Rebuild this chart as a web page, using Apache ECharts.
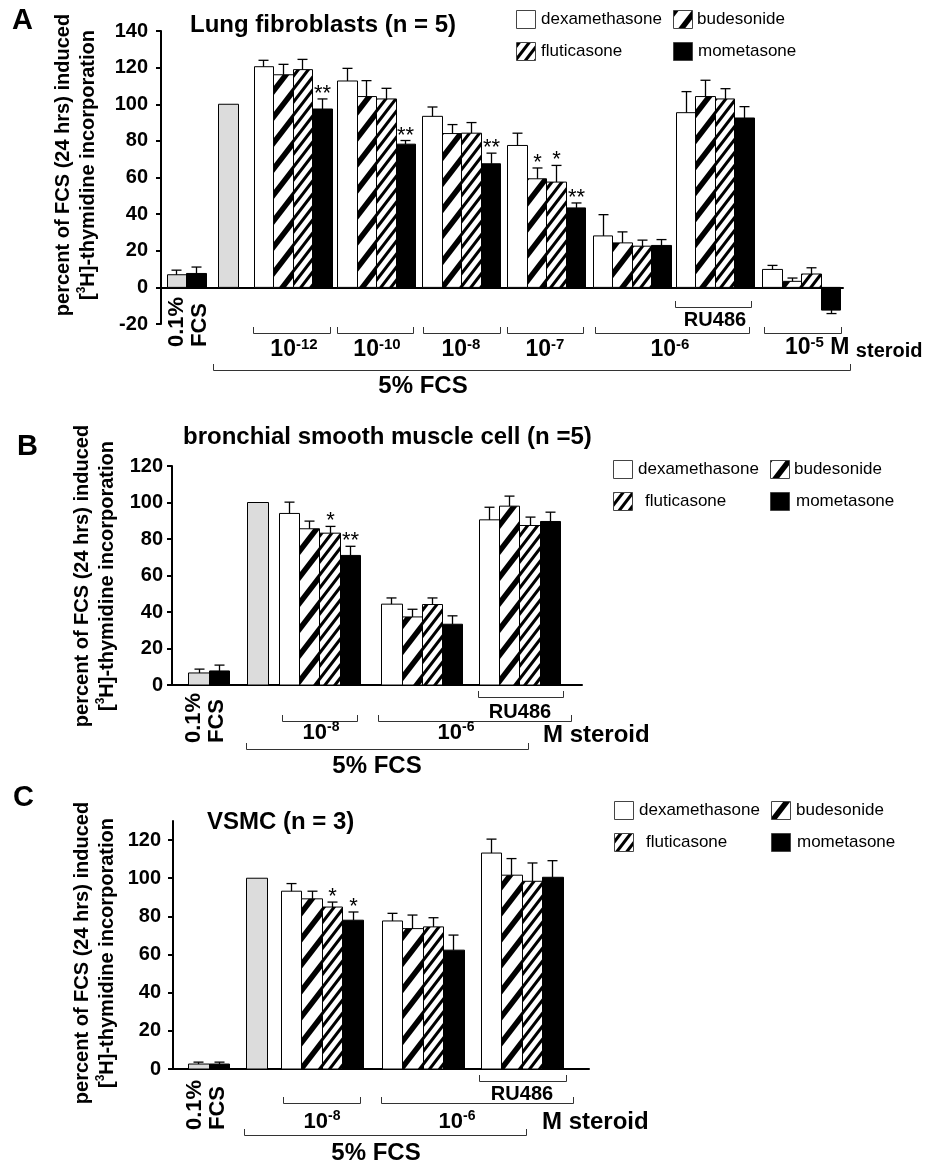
<!DOCTYPE html>
<html>
<head>
<meta charset="utf-8">
<title>Corticosteroids and FCS-induced proliferation</title>
<script src="https://cdn.jsdelivr.net/npm/echarts@6/dist/echarts.min.js"></script>
<style>
html, body { margin: 0; padding: 0; background: #fff; }
#main { width: 932px; height: 1165px; }
</style>
</head>
<body>
<div id="main"></div>
<script>
// ---- data (percent of 5% FCS response, mean and SEM) ----
var drugs = ['control', 'dexamethasone', 'budesonide', 'fluticasone', 'mometasone'];

// A: lung fibroblasts
var groupsA = ['0.1% FCS', '5% FCS', '1e-12 M', '1e-10 M', '1e-8 M', '1e-7 M', '1e-6 M', '1e-6 M + RU486', '1e-5 M'];
var ctrlA    = [6.9, 100, null, null, null, null, null, null, null];
var ctrlErrA = [2.5, 0, null, null, null, null, null, null, null];
var dexA     = [null, null, 120.5, 112.7, 93.4, 77.5, 28.1, 95.4, 9.8];
var dexErrA  = [null, null, 3.5, 6.9, 5.1, 6.7, 11.6, 11.5, 2.2];
var budA     = [null, null, 116.1, 104.2, 84.0, 59.3, 24.3, 104.2, 3.3];
var budErrA  = [null, null, 5.7, 8.7, 4.9, 5.9, 6.0, 8.9, 1.8];
var fluA     = [null, null, 118.9, 102.9, 84.2, 57.5, 22.5, 102.9, 7.3];
var fluErrA  = [null, null, 5.6, 5.8, 5.8, 9.1, 3.3, 5.6, 3.4];
var momA     = [7.6, null, 97.4, 78.2, 67.5, 43.4, 22.9, 92.5, -12.4];
var momErrA  = [3.5, null, 5.5, 2.0, 5.8, 2.7, 3.2, 6.2, 1.9];
var budSigA  = ['', '', '', '', '', '*', '', '', ''];
var fluSigA  = ['', '', '', '', '', '*', '', '', ''];
var momSigA  = ['', '', '**', '**', '**', '**', '', '', ''];

// B: bronchial smooth muscle cells
var groupsB = ['0.1% FCS', '5% FCS', '1e-8 M', '1e-6 M', '1e-6 M + RU486'];
var ctrlB    = [6.6, 100, null, null, null];
var ctrlErrB = [2.1, 0, null, null, null];
var dexB     = [null, null, 94.0, 44.3, 90.5];
var dexErrB  = [null, null, 6.2, 3.4, 6.9];
var budB     = [null, null, 85.6, 37.3, 98.0];
var budErrB  = [null, null, 4.2, 4.2, 5.5];
var fluB     = [null, null, 83.2, 44.1, 87.4];
var fluErrB  = [null, null, 3.7, 3.6, 4.6];
var momB     = [7.7, null, 71.0, 33.3, 89.6];
var momErrB  = [3.2, null, 5.0, 4.6, 5.1];
var fluSigB  = ['', '', '*', '', ''];
var momSigB  = ['', '', '**', '', ''];

// C: VSMC
var groupsC = ['0.1% FCS', '5% FCS', '1e-8 M', '1e-6 M', '1e-6 M + RU486'];
var ctrlC    = [2.6, 100, null, null, null];
var ctrlErrC = [1.0, 0, null, null, null];
var dexC     = [null, null, 93.2, 77.6, 113.2];
var dexErrC  = [null, null, 4.0, 4.0, 7.3];
var budC     = [null, null, 89.2, 73.6, 101.6];
var budErrC  = [null, null, 4.0, 7.1, 8.7];
var fluC     = [null, null, 84.9, 74.5, 98.4];
var fluErrC  = [null, null, 2.6, 4.8, 9.6];
var momC     = [2.6, null, 78.0, 62.3, 100.5];
var momErrC  = [1.0, null, 4.3, 7.9, 8.7];
var fluSigC  = ['', '', '*', '', ''];
var momSigC  = ['', '', '*', '', ''];

var ticksC = [0, 20, 40, 60, 80, 100, 120];

// ---- layout (x in bar widths) ----
var slotsA = [0.79, 3.44, 5.26, 9.54, 13.92, 18.28, 22.67, 26.92, 31.36];
var slotsB = [1.31, 4.21, 5.76, 10.81, 15.62];
var slotsC = [1.24, 4.07, 5.76, 10.68, 15.51];

var FONT = "'Liberation Sans', Arial, Helvetica, sans-serif";

// diagonal hatch tiles
function stripes(period, count, thick) {
    var w = 20, h = period * count;
    var c = document.createElement('canvas');
    c.width = w; c.height = h;
    var ctx = c.getContext('2d');
    ctx.fillStyle = '#fff';
    ctx.fillRect(0, 0, w, h);
    ctx.fillStyle = '#000';
    for (var k = -2; k <= count + 1; k++) {
        var y0 = h + k * period;
        ctx.beginPath();
        ctx.moveTo(0, y0);
        ctx.lineTo(w, y0 - h);
        ctx.lineTo(w, y0 - h + thick);
        ctx.lineTo(0, y0 + thick);
        ctx.closePath();
        ctx.fill();
    }
    return {image: c, repeat: 'repeat'};
}
var FILLS = ['#dcdcdc', '#fff', stripes(26, 1, 9), stripes(13, 2, 5), '#000'];

function barRenderer(fill, sig) {
    return function (params, api) {
        var x = api.value(0), v = api.value(1), e = api.value(2);
        var p0 = api.coord([x - 0.5, 0]);
        var p1 = api.coord([x + 0.5, v]);
        var tip = api.coord([x, v < 0 ? v - e : v + e]);
        var left = Math.round(p0[0]), right = Math.round(p1[0]);
        var cx = Math.round(tip[0]) + 0.5;
        var kids = [{
            type: 'rect',
            shape: {x: left + 0.5, y: Math.min(p0[1], p1[1]), width: right - left, height: Math.abs(p1[1] - p0[1])},
            style: {fill: fill, stroke: '#000', lineWidth: 1}
        }];
        if (e > 0) {
            kids.push({type: 'line', shape: {x1: cx, y1: p1[1], x2: cx, y2: tip[1]}, style: {stroke: '#000', lineWidth: 1.3}});
            kids.push({type: 'line', shape: {x1: cx - 5, y1: tip[1], x2: cx + 5, y2: tip[1]}, style: {stroke: '#000', lineWidth: 1.3}});
        }
        var s = sig[params.dataIndex];
        if (s) {
            kids.push({type: 'text', style: {text: s, x: cx, y: tip[1] - 5, align: 'center', verticalAlign: 'middle',
                font: '22px ' + FONT, fill: '#000'}});
        }
        return {type: 'group', children: kids};
    };
}

// cols in order of drugs: [means, sems, sig]
function panelSeries(p, slots, cols) {
    var out = [];
    cols.forEach(function (col, d) {
        var data = [], sig = [];
        col[0].forEach(function (m, g) {
            if (m === null) return;
            var pos = 0;
            for (var j = 0; j < d; j++) if (cols[j][0][g] !== null) pos++;
            data.push([slots[g] + pos, m, col[1][g] || 0]);
            sig.push(col[2] ? col[2][g] : '');
        });
        out.push({
            type: 'custom', name: drugs[d], xAxisIndex: p, yAxisIndex: p,
            data: data, clip: false, renderItem: barRenderer(FILLS[d], sig)
        });
    });
    return out;
}

function xAxis(p, max) {
    return {
        type: 'value', gridIndex: p, min: 0, max: max,
        axisLine: {show: true, onZero: true, lineStyle: {color: '#000', width: 2}},
        axisTick: {show: false}, axisLabel: {show: false}, splitLine: {show: false}
    };
}
function yAxis(p, min, max, margin, ticks) {
    return {
        type: 'value', gridIndex: p, min: min, max: max, interval: 20,
        axisLine: {show: true, lineStyle: {color: '#000', width: 2}},
        axisTick: {show: true, length: 5, lineStyle: {color: '#000', width: 2}, customValues: ticks},
        axisLabel: {fontSize: 20, fontWeight: 'bold', color: '#000', fontFamily: FONT, margin: margin, customValues: ticks},
        splitLine: {show: false}
    };
}

// ---- annotations ----
var G = [];
function label(x, y, text, o) {
    o = o || {};
    var al = o.align || 'center', va = o.va || 'middle';
    G.push({
        type: 'text', x: x, y: y, rotation: o.rot || 0, silent: true,
        style: {
            text: text, fill: '#000',
            font: (o.weight || 'bold') + ' ' + (o.size || 20) + 'px ' + FONT,
            align: al, verticalAlign: va, textAlign: al, textVerticalAlign: va,
            lineHeight: o.lh, rich: o.rich
        }
    });
}
function bracket(x1, x2, y) {
    G.push({type: 'polyline', silent: true,
        shape: {points: [[x1 + 0.5, y - 6], [x1 + 0.5, y + 0.5], [x2 + 0.5, y + 0.5], [x2 + 0.5, y - 6]]},
        style: {stroke: '#333', lineWidth: 1, fill: null}});
}
function richSet(big, small, word) {
    return {
        b: {fontSize: big, fontWeight: 'bold', fontFamily: FONT, lineHeight: big + 3},
        s: {fontSize: small, fontWeight: 'bold', fontFamily: FONT, verticalAlign: 'top', lineHeight: small + 1},
        m: {fontSize: word, fontWeight: 'bold', fontFamily: FONT, verticalAlign: 'bottom', lineHeight: big + 1}
    };
}
function pow(e) { return '{b|10}{s|' + e + '}'; }
var yName = 'percent of FCS (24 hrs) induced\n[{s|3}H]-thymidine incorporation';
var yRich = {s: {fontSize: 12, fontWeight: 'bold', fontFamily: FONT, verticalAlign: 'top', lineHeight: 14}};

function legendBlock(x1, x2, y1, y2, tx) {
    var items = [[x1, y1, 1, tx[0]], [x2, y1, 2, tx[1]], [x1, y2, 3, tx[2]], [x2, y2, 4, tx[3]]];
    items.forEach(function (it) {
        G.push({type: 'rect', silent: true, shape: {x: it[0] + 0.5, y: it[1] + 0.5, width: 19, height: 18},
            style: {fill: FILLS[it[2]], stroke: '#444', lineWidth: 1}});
        label(it[3], it[1] + 9, drugs[it[2]], {align: 'left', weight: 'normal', size: 17});
    });
}

// panel A
label(12, 21, 'A', {align: 'left', size: 29});
label(190, 25, 'Lung fibroblasts (n = 5)', {align: 'left', size: 24});
label(75.5, 165, yName, {rot: Math.PI / 2, size: 20, lh: 25, rich: yRich});
legendBlock(516, 673, 10, 42, [541, 697, 541, 698]);
var rA = richSet(23, 15, 20);
[[253, 330], [337, 413], [423, 500], [507, 583], [595, 749], [764, 841]].forEach(function (b) { bracket(b[0], b[1], 333); });
bracket(675, 751, 307);
bracket(213, 850, 370);
label(294, 350, pow('-12'), {rich: rA});
label(377, 350, pow('-10'), {rich: rA});
label(461, 350, pow('-8'), {rich: rA});
label(545, 350, pow('-7'), {rich: rA});
label(670, 350, pow('-6'), {rich: rA});
label(785, 348, pow('-5') + '{b| M }{m|steroid}', {align: 'left', rich: rA});
label(715, 320, 'RU486', {size: 20});
label(423, 386, '5% FCS', {size: 24});
label(188.5, 347, '0.1%\nFCS', {rot: Math.PI / 2, align: 'left', size: 22, lh: 23});

// panel B
label(17, 447, 'B', {align: 'left', size: 29});
label(183, 437, 'bronchial smooth muscle cell (n =5)', {align: 'left', size: 24});
label(94.5, 576, yName, {rot: Math.PI / 2, size: 20, lh: 25, rich: yRich});
legendBlock(613, 770, 460, 492, [638, 794, 645, 796]);
var rB = richSet(22, 14, 20);
bracket(478, 563, 697);
bracket(282, 357, 721);
bracket(378, 571, 721);
bracket(246, 528, 749);
label(520, 712, 'RU486', {size: 20});
label(321, 733, pow('-8'), {rich: rB});
label(456, 733, pow('-6'), {rich: rB});
label(543, 735, 'M steroid', {align: 'left', size: 24});
label(377, 766, '5% FCS', {size: 24});
label(205, 743, '0.1%\nFCS', {rot: Math.PI / 2, align: 'left', size: 22, lh: 23});

// panel C
label(13, 798, 'C', {align: 'left', size: 29});
label(207, 822, 'VSMC (n = 3)', {align: 'left', size: 24});
label(94.5, 953, yName, {rot: Math.PI / 2, size: 20, lh: 25, rich: yRich});
legendBlock(614, 771, 801, 833, [639, 796, 646, 797]);
bracket(479, 566, 1081);
bracket(283, 360, 1103);
bracket(381, 573, 1103);
bracket(244, 526, 1135);
label(522, 1094, 'RU486', {size: 20});
label(322, 1122, pow('-8'), {rich: rB});
label(457, 1122, pow('-6'), {rich: rB});
label(542, 1122, 'M steroid', {align: 'left', size: 24});
label(376, 1153, '5% FCS', {size: 24});
label(206, 1130, '0.1%\nFCS', {rot: Math.PI / 2, align: 'left', size: 22, lh: 23});

var series = []
    .concat(panelSeries(0, slotsA, [[ctrlA, ctrlErrA], [dexA, dexErrA], [budA, budErrA, budSigA], [fluA, fluErrA, fluSigA], [momA, momErrA, momSigA]]))
    .concat(panelSeries(1, slotsB, [[ctrlB, ctrlErrB], [dexB, dexErrB], [budB, budErrB], [fluB, fluErrB, fluSigB], [momB, momErrB, momSigB]]))
    .concat(panelSeries(2, slotsC, [[ctrlC, ctrlErrC], [dexC, dexErrC], [budC, budErrC], [fluC, fluErrC, fluSigC], [momC, momErrC, momSigC]]));

var chart = echarts.init(document.getElementById('main'), null, {renderer: 'canvas'});
chart.setOption({
    animation: false,
    backgroundColor: '#fff',
    grid: [
        {left: 161, top: 31, width: 682, height: 293, outerBoundsMode: 'none'},
        {left: 172, top: 466, width: 410, height: 219, outerBoundsMode: 'none'},
        {left: 173, top: 821, width: 416, height: 248, outerBoundsMode: 'none'}
    ],
    xAxis: [xAxis(0, 35), xAxis(1, 20.2), xAxis(2, 20.3)],
    yAxis: [yAxis(0, -20, 140, 13), yAxis(1, 0, 120, 9), yAxis(2, 0, 130, 12, ticksC)],
    series: series,
    graphic: {elements: G}
});
</script>
</body>
</html>
